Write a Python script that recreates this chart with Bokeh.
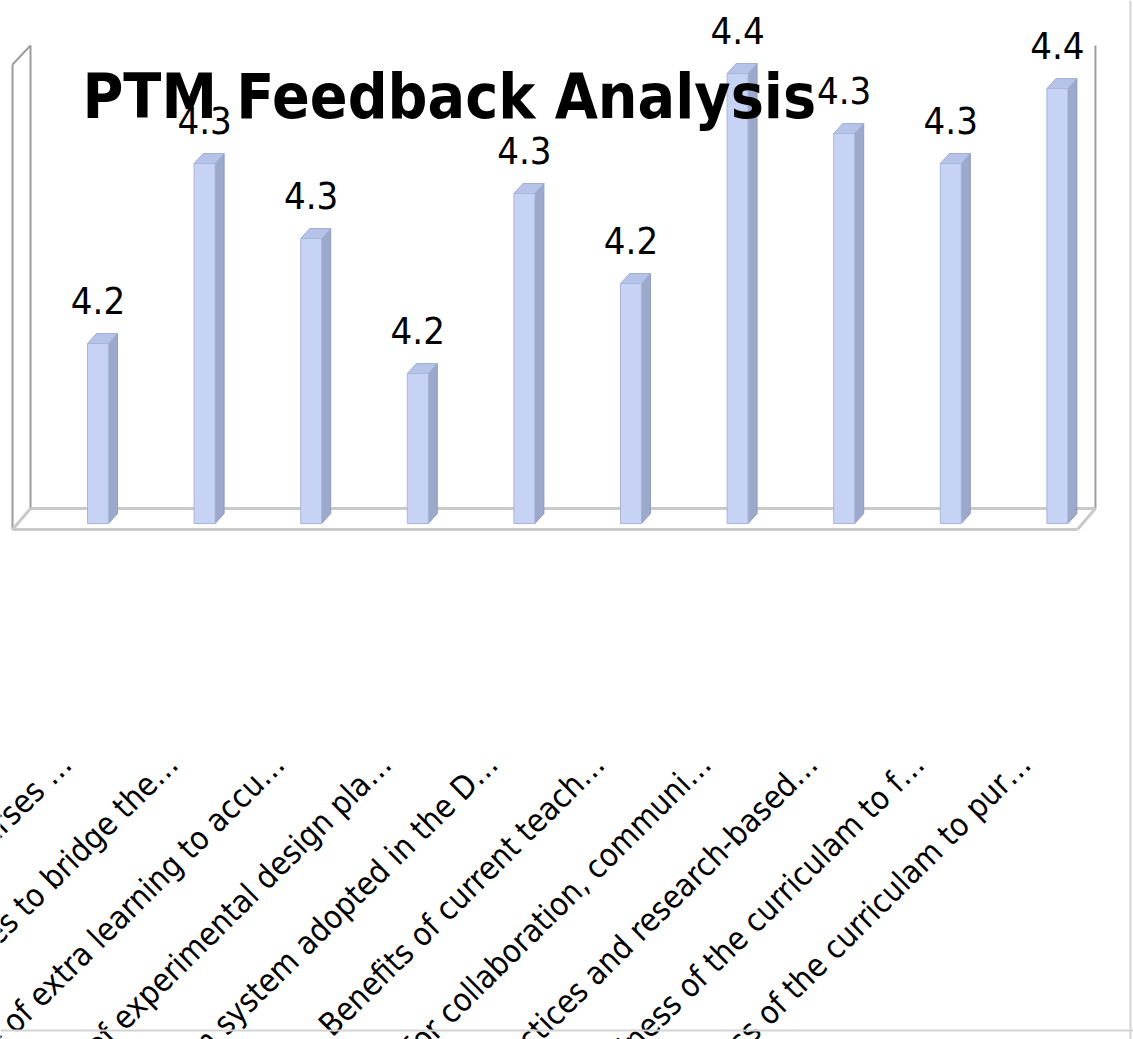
from bokeh.plotting import figure
from bokeh.models import Range1d, Label, Span
from bokeh.core.properties import value
from bokeh.embed import file_html
from bokeh.resources import INLINE

# ---------------- data ----------------
categories = [
    "Relevance of the courses …",
    "Value added courses to bridge the…",
    "Scope of extra learning to accu…",
    "Quality of experimental design pla…",
    "Uniform system adopted in the D…",
    "Benefits of current teach…",
    "Scope for collaboration, communi…",
    "Innovative practices and research-based…",
    "Usefulness of the curriculam to f…",
    "Effectiveness of the curriculam to pur…",
]
scores = [4.20, 4.32, 4.27, 4.18, 4.30, 4.24, 4.38, 4.34, 4.32, 4.37]
score_labels = [f"{v:.1f}" for v in scores]
axis_min = 4.08
title_text = "PTM Feedback Analysis"

# ---------------- layout ----------------
W, H = 1133, 1039
x_start, x_end = -0.9146, 9.714
y_start, y_end = 3.736, 4.4287
px_x = W / (x_end - x_start)
px_y = H / (y_end - y_start)


def dx(px):
    return px / px_x


def dy(px):
    return px / px_y


FONT = "DejaVu Sans Condensed, DejaVu Sans"

p = figure(width=W, height=H, x_range=Range1d(x_start, x_end),
           y_range=Range1d(y_start, y_end), x_axis_type=None, y_axis_type=None,
           output_backend="svg", toolbar_location=None, min_border=0)
p.grid.visible = False
p.outline_line_color = None
p.background_fill_color = "white"
p.border_fill_color = "white"

# ---------------- 3D box (walls + floor) ----------------
n = len(scores)
wall_left = 0 - 0.633
wall_right = (n - 1) + 0.357
wall_top = y_end - dy(45)
floor_back = axis_min + dy(15)
floor_front = axis_min - dy(6)
ox, oy = dx(18), dy(19)

wall_col = "#9c9c9c"
floor_col = "#c9c9c9"
# back wall verticals
p.multi_line(xs=[[wall_left, wall_left], [wall_right, wall_right]],
             ys=[[floor_back, wall_top], [floor_back, wall_top]],
             line_color=wall_col, line_width=2)
# left side wall
p.multi_line(xs=[[wall_left - ox, wall_left - ox], [wall_left - ox, wall_left]],
             ys=[[floor_front, wall_top - oy], [wall_top - oy, wall_top]],
             line_color=wall_col, line_width=2)
# floor
p.multi_line(xs=[[wall_left, wall_right], [wall_left - ox, wall_right - ox],
                 [wall_left - ox, wall_left], [wall_right - ox, wall_right]],
             ys=[[floor_back, floor_back], [floor_front, floor_front],
                 [floor_front, floor_back], [floor_front, floor_back]],
             line_color=floor_col, line_width=3)

# ---------------- bars ----------------
xs_idx = list(range(n))
w = dx(21)
ddx, ddy = dx(9), dy(10)

side_xs, side_ys, top_xs, top_ys = [], [], [], []
for i, v in zip(xs_idx, scores):
    r = i + w / 2
    l = i - w / 2
    side_xs.append([r, r + ddx, r + ddx, r])
    side_ys.append([axis_min, axis_min + ddy, v + ddy, v])
    top_xs.append([l, r, r + ddx, l + ddx])
    top_ys.append([v, v, v + ddy, v + ddy])

p.patches(xs=side_xs, ys=side_ys, fill_color="#9ca8cc", line_color="#8f9bc0", line_width=1)
p.patches(xs=top_xs, ys=top_ys, fill_color="#b6c3e8", line_color="#a3b0d6", line_width=1)
p.vbar(x=xs_idx, width=w, bottom=axis_min, top=scores,
       fill_color="#c6d3f4", line_color="#a9b5d9", line_width=1)

# ---------------- value labels ----------------
p.text(x=xs_idx, y=scores, text=score_labels, text_align="center",
       text_baseline="bottom", y_offset=-30, text_font=value(FONT),
       text_font_size="38px", text_color="black")

# ---------------- category labels ----------------
p.text(x=xs_idx, y=[axis_min] * n, text=categories, text_align="right",
       text_baseline="middle", x_offset=-32, y_offset=235, angle=0.78,
       text_font=value(FONT), text_font_size="32px", text_color="black")

# ---------------- title ----------------
p.add_layout(Label(x=82, y=H - 96, x_units="screen", y_units="screen",
                   text=title_text, text_font=FONT, text_font_size="62px",
                   text_font_style="bold", text_baseline="alphabetic",
                   text_color="black"))

# ---------------- chart border (right / bottom) ----------------
p.add_layout(Span(location=x_end - dx(3), dimension="height",
                  line_color="#d4d4d4", line_width=2))
p.add_layout(Span(location=y_start + dy(9), dimension="width",
                  line_color="#d4d4d4", line_width=2))

open("out.html", "w").write(file_html(p, INLINE))
